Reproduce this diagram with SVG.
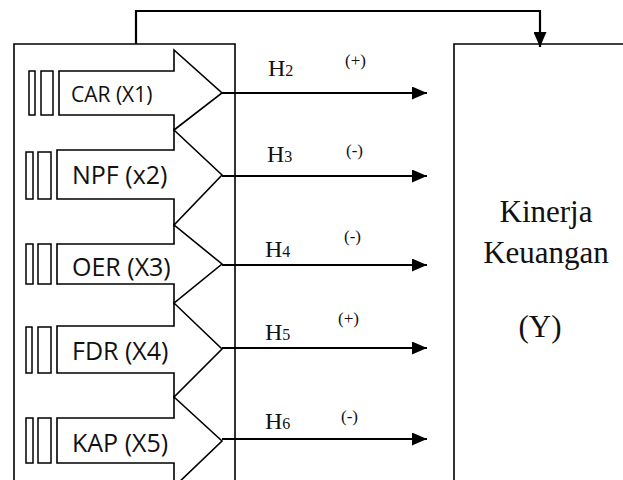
<svg xmlns="http://www.w3.org/2000/svg" width="623" height="480" viewBox="0 0 623 480">
<style>
.ln{fill:none;stroke:#000;stroke-width:1.6}
.bar{fill:#fff;stroke:#000;stroke-width:1.5}
.lab{font-family:"Open Sans","Liberation Sans",sans-serif;fill:#111}
.h{font-family:"Liberation Serif","Times New Roman",serif;fill:#111;font-size:24px}
.hs{font-size:16px}
.sg{font-family:"Liberation Serif","Times New Roman",serif;fill:#111;font-size:17px}
.y{font-family:"Liberation Serif","Times New Roman",serif;fill:#111;font-size:31px;text-anchor:middle}
.conn{fill:none;stroke:#000;stroke-width:2.2}
</style>
<defs>
<marker id="ah" markerWidth="15" markerHeight="13" refX="15" refY="6.5" orient="auto" markerUnits="userSpaceOnUse">
<path d="M0,0 L15,6.5 L0,13 Z" fill="#000"/>
</marker>
</defs>
<rect width="623" height="480" fill="#fff"/>
<g id="independen">
<path class="ln" d="M14,485 V44 H235 V485"/>
</g>
<g id="kinerja">
<path class="ln" d="M454,485 V44 H630"/>
<text class="y" x="546" y="222">Kinerja</text>
<text class="y" x="546" y="263">Keuangan</text>
<text class="y" x="540" y="337">(Y)</text>
</g>
<g id="car">
<rect class="bar" x="29" y="71" width="6" height="44"/>
<rect class="bar" x="41" y="71" width="12" height="44"/>
<path class="ln" d="M59,71 H174 V50 L222,93 L174,130 V115 H59 Z"/>
<text class="lab" x="71" y="102" font-size="21">CAR (X1)</text>
</g>
<g id="npf">
<rect class="bar" x="26" y="152" width="7" height="47"/>
<rect class="bar" x="38" y="152" width="13" height="47"/>
<path class="ln" d="M57,150 H174 V130 L222,175 L174,225 V199 H57 Z"/>
<text class="lab" x="72" y="184" font-size="25">NPF (x2)</text>
</g>
<g id="oer">
<rect class="bar" x="26" y="244" width="7" height="40"/>
<rect class="bar" x="38" y="244" width="13" height="40"/>
<path class="ln" d="M57,244 H174 V225 L222,264 L174,303 V284 H57 Z"/>
<text class="lab" x="72" y="276" font-size="25">OER (X3)</text>
</g>
<g id="fdr">
<rect class="bar" x="26" y="327" width="6" height="46"/>
<rect class="bar" x="38" y="327" width="13" height="46"/>
<path class="ln" d="M57,326 H174 V303 L222,349 L174,397 V373 H57 Z"/>
<text class="lab" x="72" y="360" font-size="25">FDR (X4)</text>
</g>
<g id="kap">
<rect class="bar" x="26" y="418" width="7" height="45"/>
<rect class="bar" x="38" y="418" width="13" height="45"/>
<path class="ln" d="M57,418 H174 V397 L222,441 L174,487 V463 H57 Z"/>
<text class="lab" x="72" y="452" font-size="25">KAP (X5)</text>
</g>
<g id="connectors">
<path class="conn" d="M136,44 V11 H540 V47" marker-end="url(#ah)"/>
<path class="conn" d="M222,93 H427" marker-end="url(#ah)"/>
<path class="conn" d="M222,176 H427" marker-end="url(#ah)"/>
<path class="conn" d="M222,265 H427" marker-end="url(#ah)"/>
<path class="conn" d="M222,348 H427" marker-end="url(#ah)"/>
<path class="conn" d="M222,439 H427" marker-end="url(#ah)"/>
<text class="h" x="268" y="76">H<tspan class="hs">2</tspan></text>
<text class="sg" x="345" y="66">(+)</text>
<text class="h" x="267" y="162">H<tspan class="hs">3</tspan></text>
<text class="sg" x="346" y="156">(-)</text>
<text class="h" x="265" y="257">H<tspan class="hs">4</tspan></text>
<text class="sg" x="344" y="242">(-)</text>
<text class="h" x="265" y="340">H<tspan class="hs">5</tspan></text>
<text class="sg" x="338" y="324">(+)</text>
<text class="h" x="265" y="429">H<tspan class="hs">6</tspan></text>
<text class="sg" x="341" y="422">(-)</text>
</g>
</svg>
